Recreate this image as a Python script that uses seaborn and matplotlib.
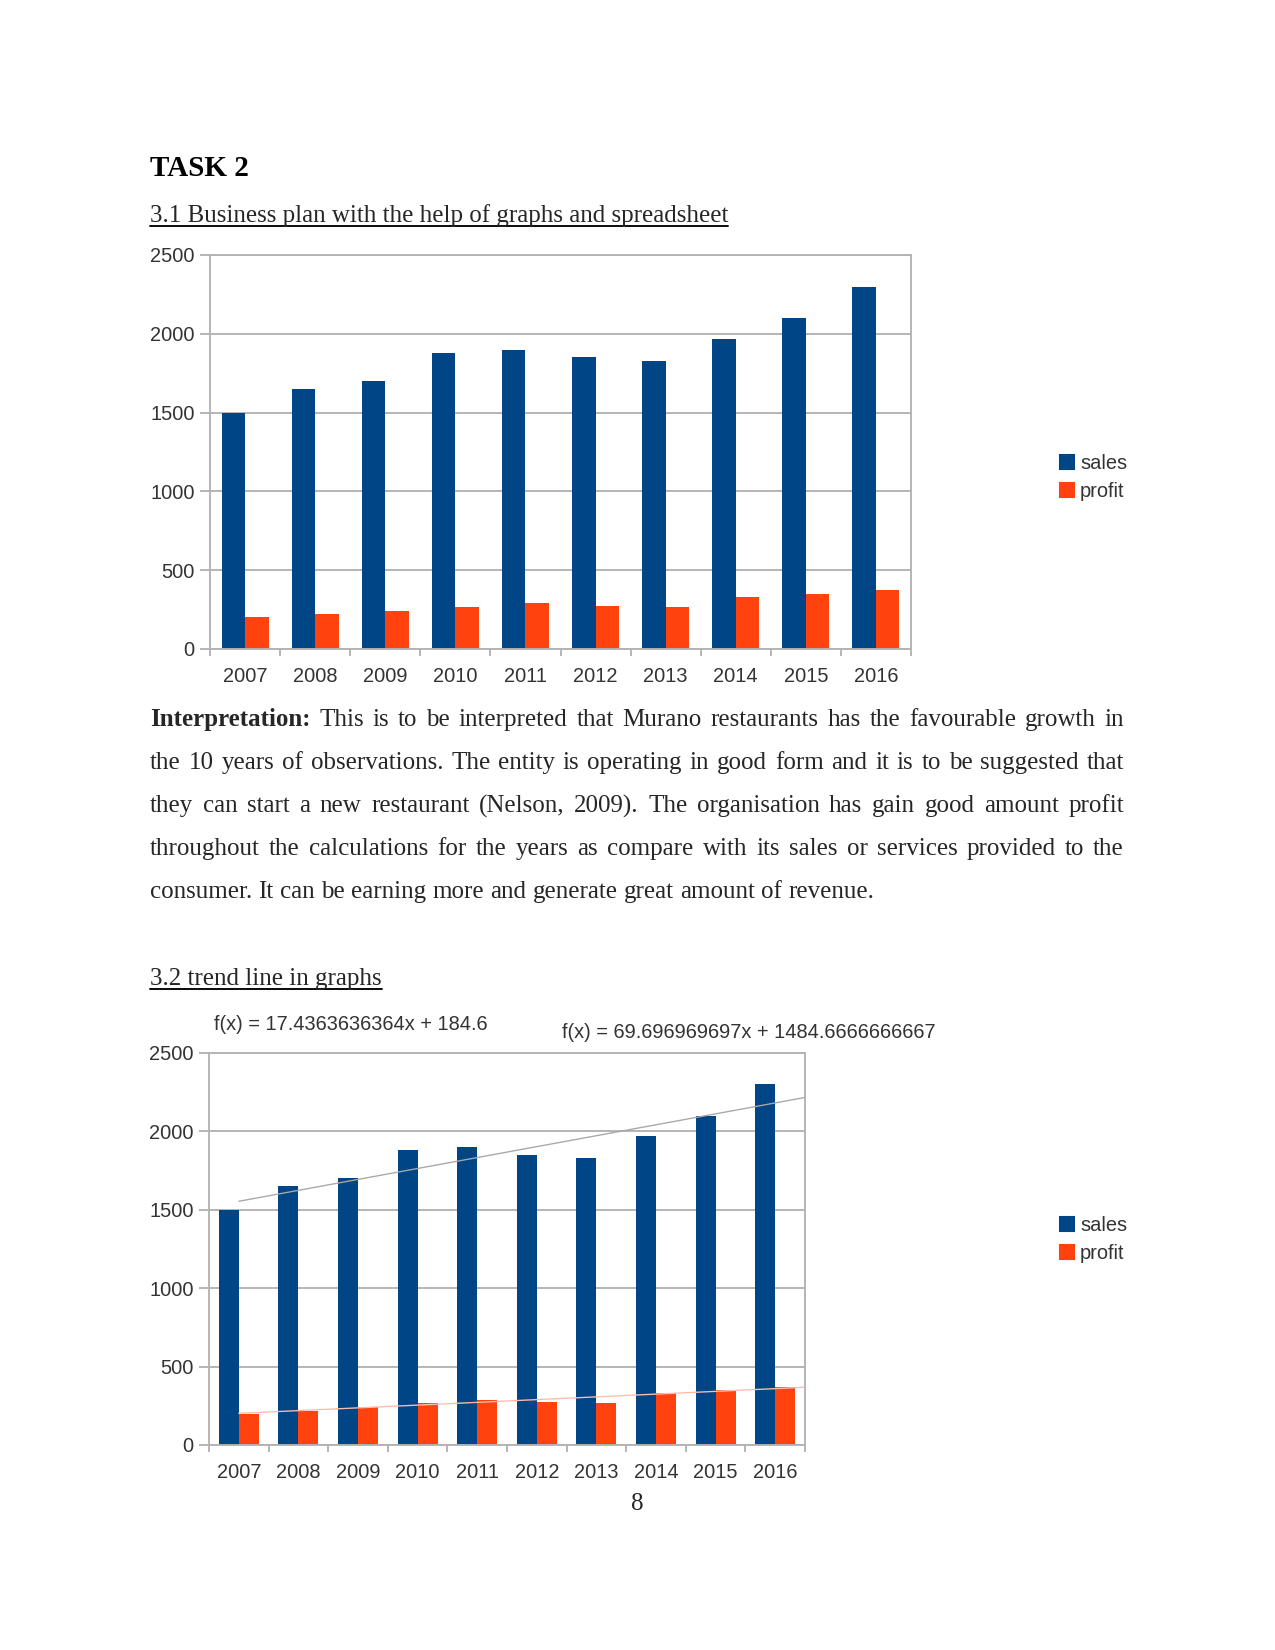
import numpy as np
import pandas as pd
import matplotlib
matplotlib.use("Agg")
import matplotlib.pyplot as plt
import seaborn as sns
from matplotlib.lines import Line2D

sns.set_style("white")
plt.rcParams['font.family'] = ['Liberation Sans', 'DejaVu Sans']

years = ['2007', '2008', '2009', '2010', '2011', '2012', '2013', '2014', '2015', '2016']
sales = [1500, 1650, 1700, 1880, 1900, 1850, 1830, 1970, 2100, 2300]
profit = [200, 220, 240, 265, 290, 275, 265, 330, 350, 372]
sales_eq = "f(x) = 69.696969697x + 1484.6666666667"
profit_eq = "f(x) = 17.4363636364x + 184.6"

SALES_C = "#004586"
PROFIT_C = "#ff420e"
GRID_C = "#b3b3b3"
TXT_C = "#333333"
CHART_FS = 9.6

df = pd.DataFrame({
    'year': years * 2,
    'value': sales + profit,
    'series': ['sales'] * len(years) + ['profit'] * len(years),
})

W, H = 1275, 1650
fig = plt.figure(figsize=(W / 150, H / 150), dpi=150)


def fx(px):
    return px / W


def fy(py):
    return 1 - py / H


def add_axes(left, top, right, bottom):
    return fig.add_axes([fx(left), fy(bottom), fx(right - left), (bottom - top) / H])


def bar_chart(ax, trend=False):
    sns.barplot(data=df, x='year', y='value', hue='series', ax=ax,
                palette={'sales': SALES_C, 'profit': PROFIT_C},
                width=0.67, gap=0, saturation=1, legend=False,
                linewidth=0, edgecolor='none')
    ax.set_ylim(0, 2500)
    ax.set_xlim(-0.5, len(years) - 0.5)
    ax.set_yticks([0, 500, 1000, 1500, 2000, 2500])
    ax.yaxis.grid(True, color=GRID_C, linewidth=0.9)
    ax.set_axisbelow(True)
    ax.set_xlabel("")
    ax.set_ylabel("")
    for s in ax.spines.values():
        s.set_color(GRID_C)
        s.set_linewidth(0.9)
    ax.tick_params(axis='y', length=4.8, width=0.9, color=GRID_C, pad=2.5,
                   labelsize=CHART_FS, labelcolor=TXT_C, left=True)
    ax.tick_params(axis='x', which='major', length=0, pad=8.5, labelsize=CHART_FS, labelcolor=TXT_C)
    ax.set_xticks(np.arange(-0.5, len(years)), minor=True)
    ax.tick_params(axis='x', which='minor', length=3.4, width=0.9, color=GRID_C, bottom=True)
    if trend:
        idx = np.arange(1, len(years) + 1)
        xs = np.array([0, len(years) - 0.5])
        for vals, col in ((sales, "#a8a8a8"), (profit, "#ffbcae")):
            k, b = np.polyfit(idx, vals, 1)
            ax.plot(xs, k * (xs + 1) + b, color=col, linewidth=0.65, zorder=5)


def legend(ax, top_px):
    handles = [Line2D([], [], marker='s', linestyle='', markersize=6.5, color=SALES_C),
               Line2D([], [], marker='s', linestyle='', markersize=6.5, color=PROFIT_C)]
    leg = ax.legend(handles, ['sales', 'profit'], loc='upper left',
                    bbox_to_anchor=(fx(1060), fy(top_px)), bbox_transform=fig.transFigure,
                    frameon=False, fontsize=CHART_FS, handlelength=0.7, handletextpad=0.3,
                    labelspacing=0.45, borderpad=0, borderaxespad=0)
    for t in leg.get_texts():
        t.set_color(TXT_C)


renderer = fig.canvas.get_renderer()
SERIF = ['Liberation Serif', 'DejaVu Serif']


def underlined(x, y, s, size=12):
    t = fig.text(fx(x), fy(y), s, fontsize=size, family=SERIF, va='baseline', ha='left')
    bb = t.get_window_extent(renderer)
    yl = fy(y + 4)
    fig.add_artist(Line2D([fx(x), bb.x1 / W], [yl, yl], color='black', linewidth=0.9))


fig.text(fx(150), fy(176), "TASK 2", fontsize=14, fontweight='bold', family=SERIF,
         va='baseline', color='black')
underlined(150, 222, "3.1 Business plan with the help of graphs and spreadsheet")

ax1 = add_axes(210, 255, 911, 649)
bar_chart(ax1)
legend(ax1, 454)

# justified paragraph, fixed line breaks as in the document
lines = [
    "Interpretation: This is to be interpreted that Murano restaurants has the favourable growth in",
    "the 10 years of observations. The entity is operating in good form and it is to be suggested that",
    "they can start a new restaurant (Nelson, 2009). The organisation has gain good amount profit",
    "throughout the calculations for the years as compare with its sales or services provided to the",
    "consumer. It can be earning more and generate great amount of revenue.",
]
left, right = 150, 1124
base0, step = 726, 43.1
space_w = 6.25
for i, line in enumerate(lines):
    words = line.split(" ")
    y = base0 + i * step
    objs = []
    for j, w in enumerate(words):
        weight = 'bold' if (i == 0 and j == 0) else 'normal'
        objs.append(fig.text(0, fy(y), w, fontsize=12, family=SERIF, fontweight=weight, va='baseline'))
    widths = [o.get_window_extent(renderer).width for o in objs]
    if i < len(lines) - 1:
        gap = (right - left - sum(widths)) / (len(words) - 1)
    else:
        gap = space_w
    x = left
    for o, wd in zip(objs, widths):
        o.set_x(fx(x))
        x += wd + gap

underlined(150, 985, "3.2 trend line in graphs")

fig.text(fx(214), fy(1025), profit_eq, fontsize=CHART_FS, color=TXT_C, va='center')
fig.text(fx(562), fy(1033), sales_eq, fontsize=CHART_FS, color=TXT_C, va='center')

ax2 = add_axes(209, 1053, 805, 1445)
bar_chart(ax2, trend=True)
legend(ax2, 1216)

fig.text(fx(637), fy(1510), "8", fontsize=12, family=SERIF, ha='center', va='baseline')

fig.savefig("out.png", dpi=150)
